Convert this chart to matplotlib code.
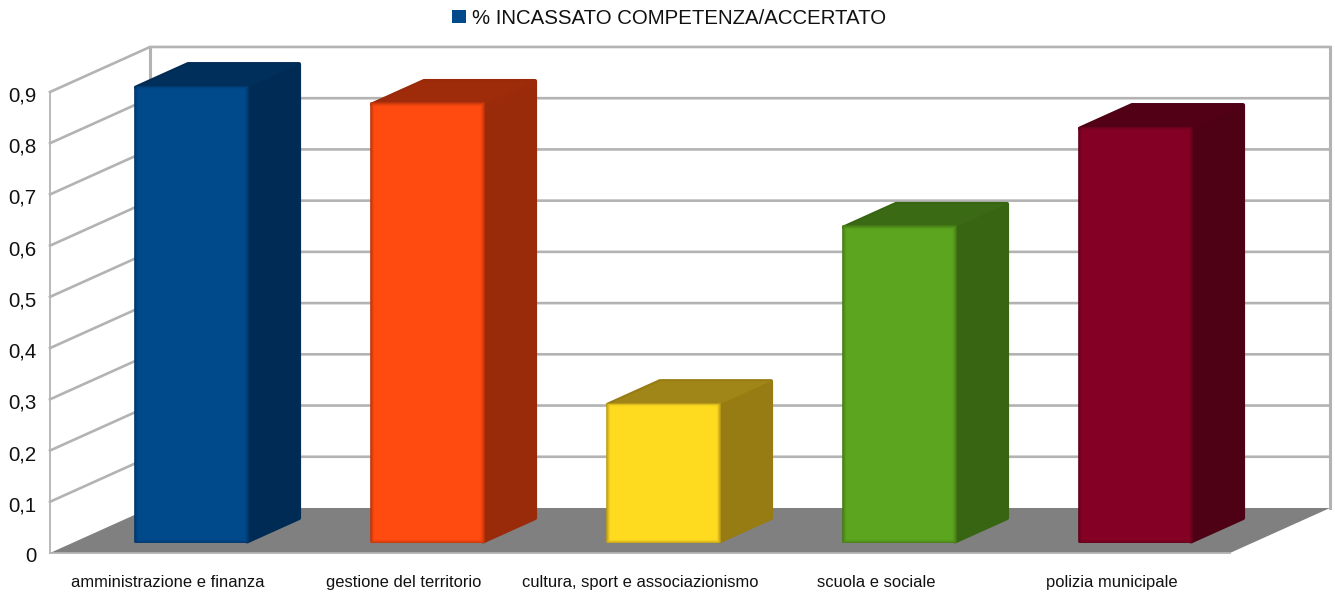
import matplotlib
matplotlib.use('Agg')
import matplotlib.pyplot as plt
from matplotlib.colors import to_rgb
from matplotlib.patches import Patch, Polygon
from matplotlib.transforms import ScaledTranslation

plt.rcParams['font.family'] = ['Liberation Sans', 'DejaVu Sans']

categories = ['amministrazione e finanza', 'gestione del territorio',
              'cultura, sport e associazionismo', 'scuola e sociale',
              'polizia municipale']
values = [0.89, 0.857, 0.271, 0.617, 0.81]
front_colors = ['#004a8c', '#ff4a10', '#ffdb20', '#5ca51f', '#850025']
side_colors = ['#002b55', '#992a0a', '#977c14', '#386512', '#4e0015']
top_colors = ['#002f5c', '#9e2c0a', '#a08618', '#3a6a13', '#520016']
y_ticks = [0, 0.1, 0.2, 0.3, 0.4, 0.5, 0.6, 0.7, 0.8, 0.9]
series_name = '% INCASSATO COMPETENZA/ACCERTATO'

W, H = 1335, 594
# depth of the fake 3d box, in axis units
DX = 100 / 236
DY = 45 / 512
XMIN, XMAX = -0.5, 4.5
YMAX = 0.9
GRID = '#b3b3b3'
BAR_W = 113 / 236
PX, PY = 1 / 236, 1 / 512   # one pixel in axis units
D0, D1 = 0.235, 0.755


def proj(x, y, d):
    # d = 0 front of the box, d = 1 back wall
    return (x + DX * d, y + DY * d)


def mix(c1, c2, t):
    a, b = to_rgb(c1), to_rgb(c2)
    return tuple(a[k] * (1 - t) + b[k] * t for k in range(3))


fig = plt.figure(figsize=(W / 100, H / 100), dpi=100)
ax = fig.add_axes([50 / W, (H - 553) / H, 1180 / W, 461 / H])
ax.set_xlim(XMIN, XMAX)
ax.set_ylim(0, YMAX)
for s in ax.spines.values():
    s.set_visible(False)

# floor
ax.add_patch(Polygon([proj(XMIN, 0, 0), proj(XMAX, 0, 0), proj(XMAX, 0, 1), proj(XMIN, 0, 1)],
                     closed=True, fc='#808080', ec='none', clip_on=False, zorder=1))

# grid on left and back walls
for t in y_ticks:
    x0, y0 = proj(XMIN, t, 0)
    x1, y1 = proj(XMIN, t, 1)
    x2, y2 = proj(XMAX, t, 1)
    if t > 0:
        ax.plot([x0, x1, x2], [y0, y1, y2], color=GRID, lw=1.9, clip_on=False, zorder=2,
                solid_joinstyle='miter')

# wall outlines
xa, ya = proj(XMIN, 0, 1)
xb, yb = proj(XMIN, YMAX, 1)
ax.plot([xa, xb], [ya, yb], color=GRID, lw=2.2, clip_on=False, zorder=2)
xa, ya = proj(XMAX, 0, 1)
xb, yb = proj(XMAX, YMAX, 1)
ax.plot([xa, xb], [ya, yb], color=GRID, lw=2.2, clip_on=False, zorder=2)
ax.plot([XMIN, XMIN], [0, YMAX], color=GRID, lw=1.3, clip_on=False, zorder=2)
ax.plot([XMIN, XMAX], [0, 0], color=GRID, lw=1.3, clip_on=False, zorder=2)

# bars
for i, v in enumerate(values):
    l, r = i - BAR_W / 2, i + BAR_W / 2
    # dark body, slightly inset so the round join lands on the real edge
    ix, iy = 1 * PX, 1 * PY
    body = [proj(l + ix, v - iy, D0), proj(l + ix, v - iy, D1), proj(r - ix, v - iy, D1),
            proj(r - ix, iy, D1), proj(r - ix, iy, D0), proj(r - ix, v - iy, D0)]
    p = Polygon(body, closed=True, fc=side_colors[i], ec=side_colors[i], lw=3,
                clip_on=False, zorder=3)
    p.set_joinstyle('round')
    ax.add_patch(p)
    top = [proj(l + ix, v - iy, D0), proj(r - ix, v - iy, D0),
           proj(r - ix, v - iy, D1), proj(l + ix, v - iy, D1)]
    ax.add_patch(Polygon(top, closed=True, fc=top_colors[i], ec='none', clip_on=False, zorder=3))

    # front face, soft dark rim stepped towards the flat colour
    for k, t in enumerate([0.0, 0.3, 0.6, 0.85, 1.0]):
        n = k * 0.9
        ix, iy = n * PX, n * PY
        front = [proj(l + ix, iy, D0), proj(r - ix, iy, D0),
                 proj(r - ix, v - iy, D0), proj(l + ix, v - iy, D0)]
        c = mix(side_colors[i], front_colors[i], 0.35 + 0.65 * t)
        p = Polygon(front, closed=True, fc=c, ec=c, lw=1.2, clip_on=False, zorder=4 + k * 0.1)
        p.set_joinstyle('round')
        ax.add_patch(p)

ax.set_yticks(y_ticks)
ax.set_yticklabels([('%g' % t).replace('.', ',') for t in y_ticks], fontsize=14.7, color='#111111')
ax.set_xticks(range(len(categories)))
ax.set_xticklabels(categories, fontsize=11.9, color='#111111')
ax.tick_params(axis='both', length=0)
ax.tick_params(axis='y', pad=10)
ax.tick_params(axis='x', pad=16)
# the value labels sit a touch under their grid lines
shift = ScaledTranslation(0, -2 / 100, fig.dpi_scale_trans)
for lab in ax.get_yticklabels():
    lab.set_transform(lab.get_transform() + shift)

fig.legend(handles=[Patch(fc=front_colors[0], ec='none', label=series_name)],
           loc='center', bbox_to_anchor=(669 / W, 1 - 18 / H), frameon=False,
           fontsize=14.7, handlelength=0.65, handleheight=0.65, handletextpad=0.3,
           labelcolor='#111111')

fig.savefig('out.png', dpi=100)
